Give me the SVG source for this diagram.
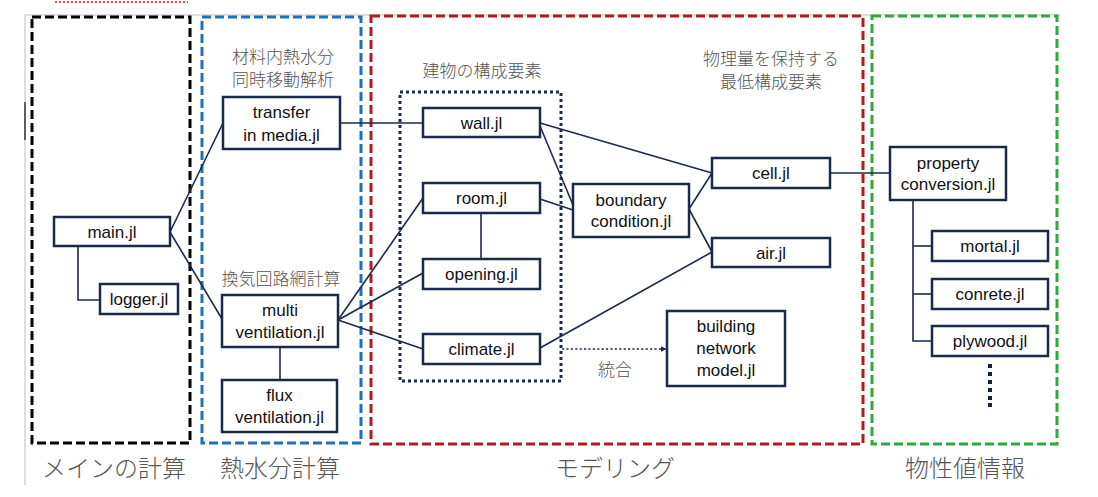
<svg xmlns="http://www.w3.org/2000/svg" width="1098" height="497" viewBox="0 0 1098 497">
<style>
.node rect{fill:#fff;stroke:#1b2a4a;stroke-width:2.5}
.node text{font-family:"Liberation Sans",Arial,sans-serif;font-size:17px;fill:#111;text-anchor:middle}
.conn line,.conn polyline{stroke:#1b2a4a;stroke-width:1.6;fill:none}
.grp{fill:none;stroke-width:3;stroke-dasharray:9 4}
.jp{font-family:"Noto Sans CJK JP","Noto Sans",sans-serif;fill:#555;text-anchor:middle;font-weight:300}
.s{font-size:17px}
.b{font-size:24px}
.dot{fill:#14213f}
</style>
<defs>
<marker id="arr" viewBox="0 0 10 10" refX="9" refY="5" markerWidth="6" markerHeight="6" orient="auto" markerUnits="userSpaceOnUse">
<path d="M0,0 L10,5 L0,10 z" fill="#1b2a4a"/>
</marker>
</defs>
<rect width="1098" height="497" fill="#fff"/>
<g id="frame">
<line x1="55" y1="2" x2="188" y2="2" stroke="#ff4a4a" stroke-width="2" stroke-dasharray="2 2"/>
<polyline points="25,485 25,15 1060,15" fill="none" stroke="#d4d4d4" stroke-width="1.5"/>
<line x1="25" y1="102" x2="25" y2="140" stroke="#333" stroke-width="1.5"/>
</g>
<g id="groups">
<rect class="grp" x="32" y="17" width="158" height="426" stroke="#000"/>
<rect class="grp" x="202" y="17" width="159" height="426" stroke="#1f6fbf"/>
<rect class="grp" x="371" y="16" width="492" height="428" stroke="#b01c1c"/>
<rect class="grp" x="872" y="16" width="185" height="428" stroke="#2fa83d"/>
<rect x="400" y="92" width="161" height="289" fill="none" stroke="#1b2a4a" stroke-width="3" stroke-dasharray="3 3"/>
</g>
<g id="labels">
<text class="jp b" x="114" y="477">メインの計算</text>
<text class="jp b" x="280" y="477">熱水分計算</text>
<text class="jp b" x="615" y="477">モデリング</text>
<text class="jp b" x="965" y="477">物性値情報</text>
<text class="jp s" x="283" y="63">材料内熱水分</text>
<text class="jp s" x="283" y="86">同時移動解析</text>
<text class="jp s" x="281" y="285">換気回路網計算</text>
<text class="jp s" x="482" y="77">建物の構成要素</text>
<text class="jp s" x="771" y="65">物理量を保持する</text>
<text class="jp s" x="771" y="88">最低構成要素</text>
<text class="jp s" x="615" y="376">統合</text>
</g>
<g id="connectors" class="conn">
<polyline points="78,246 78,300 100,300"/>
<line x1="170" y1="232" x2="223" y2="123"/>
<line x1="170" y1="232" x2="222" y2="319"/>
<line x1="280" y1="347" x2="280" y2="380"/>
<line x1="340" y1="123" x2="423" y2="123"/>
<line x1="338" y1="320" x2="423" y2="198"/>
<line x1="338" y1="320" x2="423" y2="273"/>
<line x1="338" y1="320" x2="423" y2="349"/>
<line x1="481" y1="213" x2="481" y2="259"/>
<line x1="540" y1="123" x2="712" y2="173"/>
<line x1="540" y1="126" x2="573" y2="205"/>
<line x1="540" y1="199" x2="573" y2="210"/>
<line x1="689" y1="209" x2="712" y2="173"/>
<line x1="689" y1="209" x2="712" y2="252"/>
<line x1="540" y1="348" x2="712" y2="252"/>
<line x1="830" y1="173" x2="890" y2="173"/>
<polyline points="913,200 913,341 932,341"/>
<line x1="913" y1="246" x2="932" y2="246"/>
<line x1="913" y1="294" x2="932" y2="294"/>
<line x1="562" y1="349" x2="666" y2="349" stroke-width="2.2" stroke-dasharray="2.2 2.2" marker-end="url(#arr)"/>
</g>
<g id="more">
<rect class="dot" x="988" y="364" width="4" height="4"/>
<rect class="dot" x="988" y="372" width="4" height="4"/>
<rect class="dot" x="988" y="380" width="4" height="4"/>
<rect class="dot" x="988" y="388" width="4" height="4"/>
<rect class="dot" x="988" y="396" width="4" height="4"/>
<rect class="dot" x="988" y="403" width="4" height="4"/>
</g>
<g id="main" class="node"><rect x="54" y="217" width="116" height="29"/><text x="112" y="238">main.jl</text></g>
<g id="logger" class="node"><rect x="100" y="284" width="78" height="30"/><text x="139" y="305">logger.jl</text></g>
<g id="transfer" class="node"><rect x="223" y="97" width="117" height="52"/><text x="281.5" y="118">transfer</text><text x="281.5" y="141">in media.jl</text></g>
<g id="multi" class="node"><rect x="222" y="295" width="116" height="52"/><text x="280" y="316">multi</text><text x="280" y="338">ventilation.jl</text></g>
<g id="flux" class="node"><rect x="222" y="380" width="115" height="52"/><text x="279.5" y="401">flux</text><text x="279.5" y="423">ventilation.jl</text></g>
<g id="wall" class="node"><rect x="423" y="108" width="117" height="29"/><text x="481.5" y="129">wall.jl</text></g>
<g id="room" class="node"><rect x="423" y="183" width="117" height="30"/><text x="481.5" y="204">room.jl</text></g>
<g id="opening" class="node"><rect x="423" y="259" width="117" height="30"/><text x="481.5" y="280">opening.jl</text></g>
<g id="climate" class="node"><rect x="423" y="334" width="117" height="30"/><text x="481.5" y="355">climate.jl</text></g>
<g id="boundary" class="node"><rect x="573" y="184" width="116" height="53"/><text x="631" y="206">boundary</text><text x="631" y="227">condition.jl</text></g>
<g id="cell" class="node"><rect x="712" y="158" width="118" height="30"/><text x="771" y="179">cell.jl</text></g>
<g id="air" class="node"><rect x="712" y="238" width="118" height="29"/><text x="771" y="259">air.jl</text></g>
<g id="bnm" class="node"><rect x="667" y="311" width="118" height="75"/><text x="726" y="332">building</text><text x="726" y="354">network</text><text x="726" y="376">model.jl</text></g>
<g id="property" class="node"><rect x="890" y="147" width="116" height="53"/><text x="948" y="169">property</text><text x="948" y="190">conversion.jl</text></g>
<g id="mortal" class="node"><rect x="932" y="231" width="116" height="30"/><text x="990" y="252">mortal.jl</text></g>
<g id="conrete" class="node"><rect x="932" y="279" width="116" height="30"/><text x="990" y="300">conrete.jl</text></g>
<g id="plywood" class="node"><rect x="932" y="326" width="116" height="30"/><text x="990" y="347">plywood.jl</text></g>
</svg>
